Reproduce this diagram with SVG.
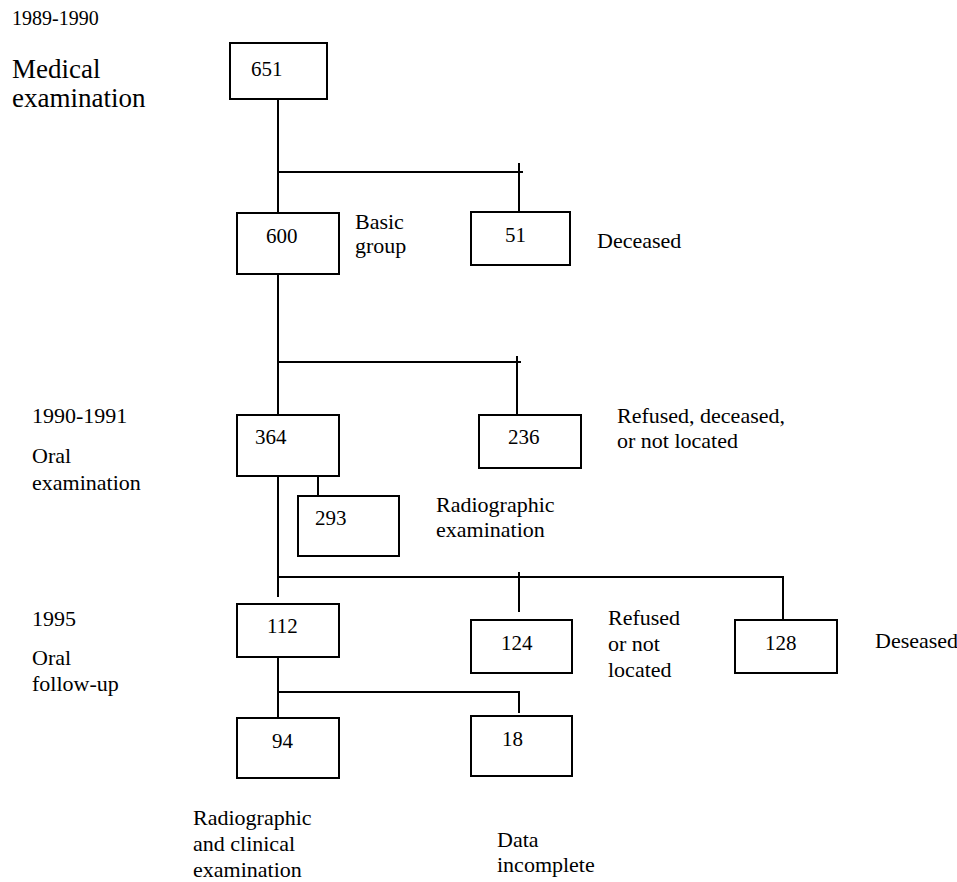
<svg xmlns="http://www.w3.org/2000/svg" width="957" height="882" viewBox="0 0 957 882">
<style>
.box{fill:#fff;stroke:#000;stroke-width:2}
.ln{fill:none;stroke:#000;stroke-width:2}
text{font-family:"Liberation Serif","Times New Roman",serif;fill:#000;font-size:21px}
.lbl{font-size:22px}
.big{font-size:27px}
.yr0{font-size:20px}
</style>
<rect width="957" height="882" fill="#fff"/>
<g id="labels">
<text class="yr0" x="12" y="25">1989-1990</text>
<text class="big" x="12" y="78">Medical</text>
<text class="big" x="12" y="107">examination</text>
<text class="lbl" x="32" y="423">1990-1991</text>
<text class="lbl" x="32" y="463">Oral</text>
<text class="lbl" x="32" y="490">examination</text>
<text class="lbl" x="32" y="626">1995</text>
<text class="lbl" x="32" y="665">Oral</text>
<text class="lbl" x="32" y="691">follow-up</text>
</g>
<g id="connectors">
<path class="ln" d="M278,99 V213 M278,172 H523 M519,163 V212"/>
<path class="ln" d="M278,274 V415 M278,362 H521 M517,356 V415"/>
<path class="ln" d="M318,476 V496"/>
<path class="ln" d="M278,476 V597 M278,577 H783 V620 M519,572 V612"/>
<path class="ln" d="M278,657 V718 M278,692 H519 V713"/>
</g>
<g id="n651"><rect class="box" x="230" y="43" width="97" height="56"/><text x="251" y="76">651</text></g>
<g id="n600"><rect class="box" x="237" y="213" width="102" height="61"/><text x="266" y="243">600</text>
<text class="lbl" x="355" y="229">Basic</text><text class="lbl" x="355" y="253">group</text></g>
<g id="n51"><rect class="box" x="471" y="212" width="99" height="53"/><text x="505" y="242">51</text>
<text class="lbl" x="597" y="248">Deceased</text></g>
<g id="n364"><rect class="box" x="237" y="415" width="102" height="61"/><text x="255" y="444">364</text></g>
<g id="n236"><rect class="box" x="479" y="415" width="102" height="53"/><text x="508" y="444">236</text>
<text class="lbl" x="617" y="423">Refused, deceased,</text><text class="lbl" x="617" y="448">or not located</text></g>
<g id="n293"><rect class="box" x="298" y="496" width="101" height="60"/><text x="315" y="525">293</text>
<text class="lbl" x="436" y="512">Radiographic</text><text class="lbl" x="436" y="537">examination</text></g>
<g id="n112"><rect class="box" x="237" y="604" width="102" height="53"/><text x="267" y="633">112</text></g>
<g id="n124"><rect class="box" x="471" y="620" width="101" height="53"/><text x="501" y="650">124</text>
<text class="lbl" x="608" y="625">Refused</text><text class="lbl" x="608" y="651">or not</text><text class="lbl" x="608" y="677">located</text></g>
<g id="n128"><rect class="box" x="735" y="620" width="102" height="53"/><text x="765" y="650">128</text>
<text class="lbl" x="875" y="648">Deseased</text></g>
<g id="n94"><rect class="box" x="237" y="718" width="102" height="60"/><text x="272" y="748">94</text>
<text class="lbl" x="193" y="825">Radiographic</text><text class="lbl" x="193" y="851">and clinical</text><text class="lbl" x="193" y="877">examination</text></g>
<g id="n18"><rect class="box" x="471" y="716" width="101" height="60"/><text x="502" y="746">18</text>
<text class="lbl" x="497" y="847">Data</text><text class="lbl" x="497" y="872">incomplete</text></g>
</svg>
